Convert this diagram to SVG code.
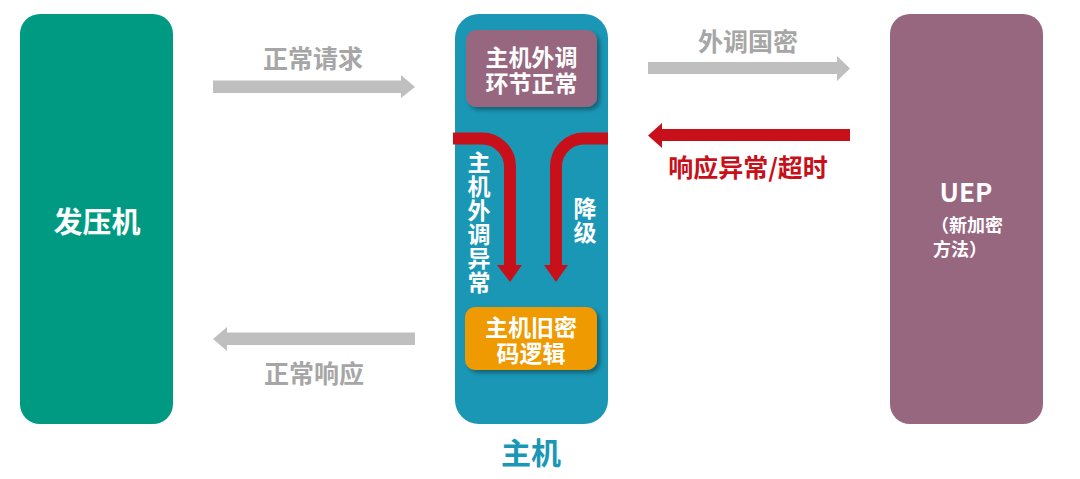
<svg xmlns="http://www.w3.org/2000/svg" width="1080" height="479" viewBox="0 0 1080 479">
<style>
.t{font-family:"Noto Sans CJK SC","Liberation Sans",sans-serif;font-weight:bold;text-anchor:middle;dominant-baseline:central}
.v{font-family:"Noto Sans CJK SC","Liberation Sans",sans-serif;font-weight:bold;text-anchor:middle;writing-mode:vertical-rl;fill:#ffffff;font-size:23px}
.w{fill:#ffffff}
.g{fill:#A6A6A6;font-size:25px}
.r{fill:#C8101A;font-size:25px}
.gray{fill:#BFBFBF}
.red{fill:#C8101A}
</style>
<defs>
<filter id="sh" x="-10%" y="-10%" width="130%" height="140%">
<feDropShadow dx="3" dy="3" stdDeviation="2" flood-color="#000" flood-opacity="0.35"/>
</filter>
</defs>
<rect width="1080" height="479" fill="#ffffff"/>
<g id="node-fayaji">
<rect x="20" y="14" width="153" height="410" rx="20" fill="#009A82"/>
<text class="t w" x="97" y="220" font-size="29">发压机</text>
</g>
<g id="node-zhuji">
<rect x="455" y="14" width="153" height="410" rx="24" fill="#1A97B5"/>
<text class="t" x="531" y="451" font-size="30" fill="#1A97B5">主机</text>
</g>
<g id="node-normal">
<rect x="466" y="30" width="131" height="77" rx="10" fill="#97667F" filter="url(#sh)"/>
<text class="t w" x="531.5" y="56" font-size="23"><tspan x="531.5" y="56">主机外调</tspan><tspan x="531.5" y="82">环节正常</tspan></text>
</g>
<g id="node-old">
<rect x="465" y="307" width="132" height="63" rx="10" fill="#EE9A00" filter="url(#sh)"/>
<text class="t w" x="531" y="326" font-size="23"><tspan x="531" y="326">主机旧密</tspan><tspan x="531" y="352">码逻辑</tspan></text>
</g>
<g id="node-uep">
<rect x="890" y="14" width="153" height="410" rx="20" fill="#97667F"/>
<text class="t w" x="966" y="190" font-size="26">UEP</text>
<text class="t w" x="931" y="224" font-size="18" style="text-anchor:start"><tspan x="931" y="224">（新加密</tspan><tspan x="933" y="248">方法）</tspan></text>
</g>
<g id="connectors">
<path class="gray" d="M213,80.5 H401 V75 L415,87 L401,98 V93 H213 Z"/>
<text class="t g" x="313" y="57">正常请求</text>
<path class="gray" d="M415,332.5 H227 V327 L213,339 L227,351 V345 H415 Z"/>
<text class="t g" x="314" y="372">正常响应</text>
<path class="gray" d="M648,62 H837 V56 L850,68.5 L837,81 V74 H648 Z"/>
<text class="t g" x="748" y="40">外调国密</text>
<path class="red" d="M850,129 H662 V123 L648,135.5 L662,148 V141 H850 Z"/>
<text class="t r" x="748" y="166">响应异常/超时</text>
<path d="M453,138.5 H482 A28,28 0 0 1 510,166.5 V268" fill="none" stroke="#C8101A" stroke-width="12"/>
<path class="red" d="M497,265 H522 L510,282 Z"/>
<path d="M608,138.5 H584 A28,28 0 0 0 556,166.5 V268" fill="none" stroke="#C8101A" stroke-width="12"/>
<path class="red" d="M544,265 H568 L556,282 Z"/>
<text class="v" x="479" y="223" letter-spacing="1">主机外调异常</text>
<text class="v" x="585" y="221" letter-spacing="1">降级</text>
</g>
</svg>
